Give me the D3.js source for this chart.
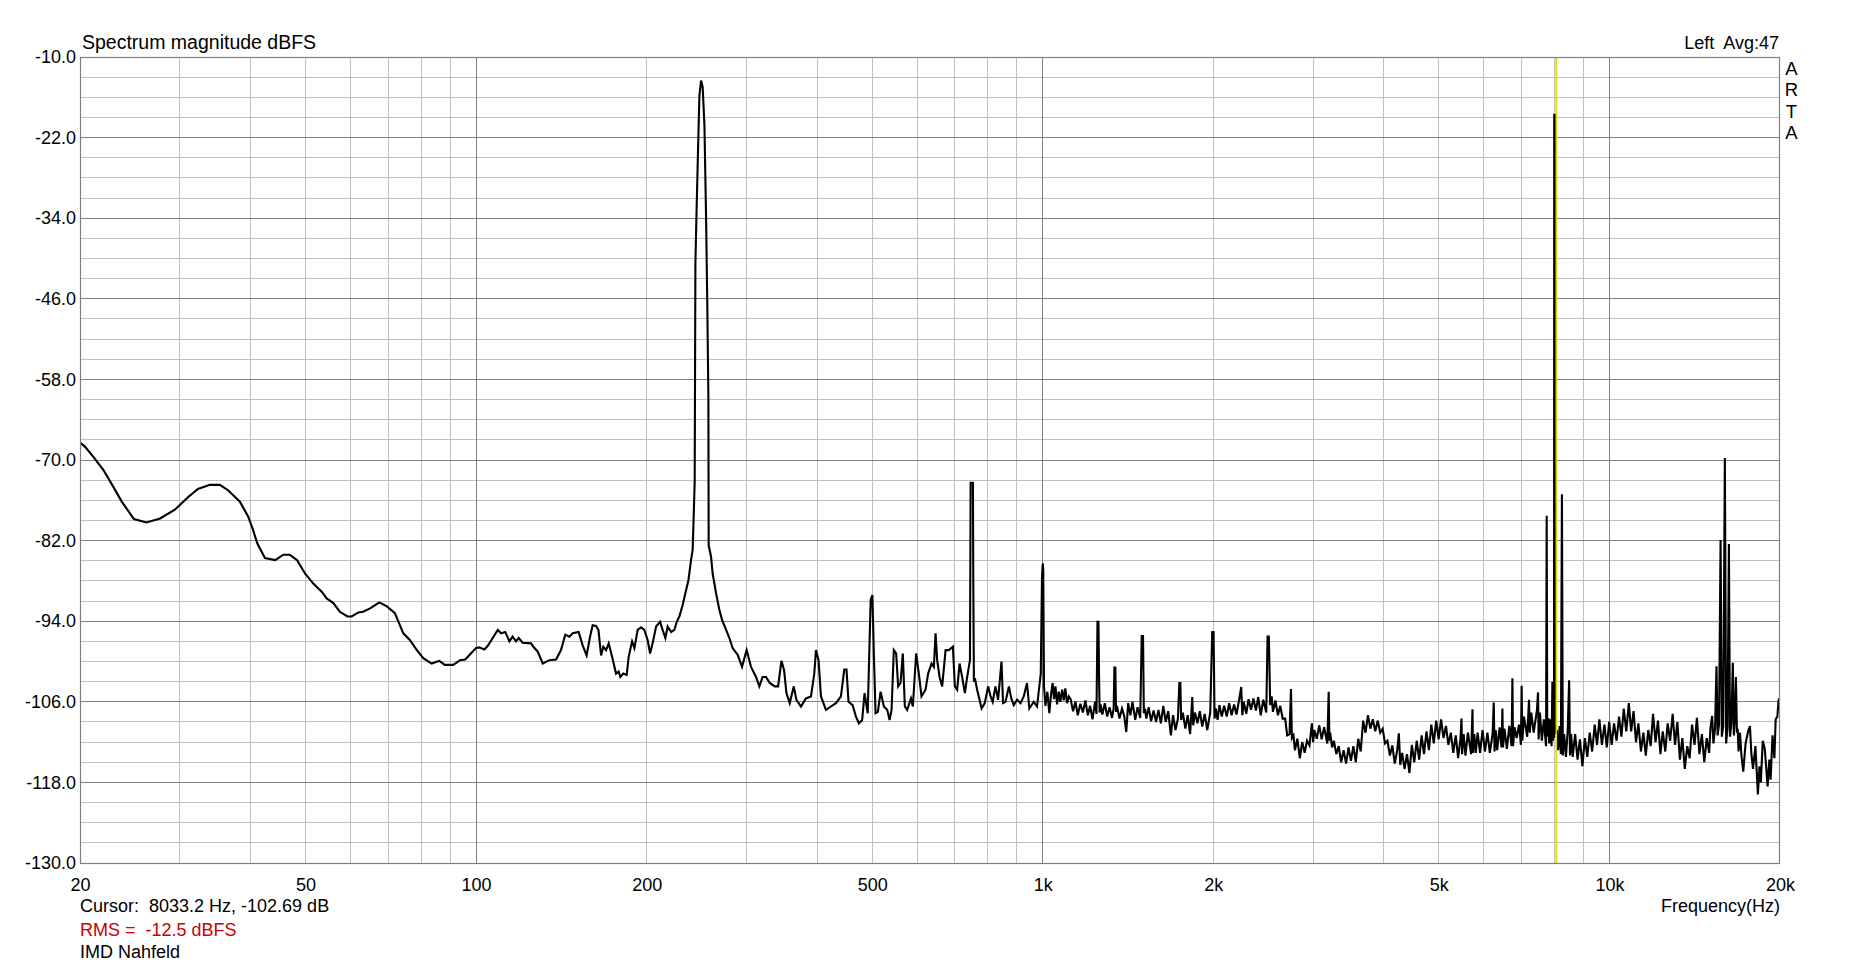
<!DOCTYPE html>
<html><head><meta charset="utf-8">
<script src="https://cdn.jsdelivr.net/npm/d3@7"></script>
<style>
html,body{margin:0;padding:0;background:#fff;}
svg{display:block;}
text{font-family:"Liberation Sans",Arial,Helvetica,sans-serif;fill:#000;white-space:pre;}
</style></head><body>
<svg id="chart" width="1860" height="967"></svg>
<script>
// ---------- DATA (frequency Hz, magnitude dBFS) ----------
const lowBand = [[20,-67.4],[20.4,-68.0],[21.1,-69.5],[22.0,-71.5],[22.9,-74.0],[23.7,-76.2],[24.9,-78.8],[26.2,-79.3],[27.7,-78.7],[29.4,-77.4],[31.05,-75.5],[32.3,-74.3],[33.9,-73.7],[35.3,-73.7],[36.5,-74.5],[38.3,-76.2],[39.6,-78.4],[40.4,-80.4],[41.1,-82.4],[42.4,-84.6],[44.2,-84.9],[45.7,-84.1],[46.9,-84.1],[48.3,-84.9],[49.9,-86.9],[51.6,-88.4],[53.4,-89.6],[54.5,-90.6],[56.0,-91.3],[57.5,-92.6],[59.3,-93.3],[60.3,-93.3],[62.0,-92.7],[63.2,-92.6],[65.0,-92.1],[67.5,-91.2],[69.6,-91.8],[71.9,-92.8],[74.4,-95.8],[76.4,-96.8],[78.6,-98.3],[80.7,-99.5],[83.5,-100.3],[86.1,-99.9],[88.1,-100.5],[91.1,-100.5],[93.7,-99.8],[95.7,-99.7],[100,-98.0],[101.3,-97.9],[103.4,-98.2],[104.8,-97.7],[107.0,-96.5],[109.2,-95.3],[110.7,-95.8],[112.6,-95.6],[114.5,-97.0],[116.0,-96.3],[117.6,-97.0],[118.9,-96.5],[120.8,-97.2],[125.0,-97.3],[126.2,-97.8],[128.4,-98.5],[131.1,-100.3],[134.7,-99.8],[138.4,-99.7],[141.2,-98.3],[143.7,-96.0],[146.1,-96.3],[148.1,-95.8],[151.7,-95.6],[154.2,-97.6],[156.7,-99.1],[158.9,-96.3],[160.6,-94.6],[162.8,-94.7],[164.4,-95.3],[166.2,-99.1],[167.7,-97.8],[169.6,-98.3],[171.4,-97.3],[173.8,-99.3],[176.6,-101.8],[178.5,-101.5],[179.7,-102.3],[181.9,-101.8],[184.4,-102.0],[185.9,-99.3],[188.5,-97.0],[190.3,-98.0],[192.8,-95.3],[195.5,-94.9],[198.1,-95.3],[200.8,-96.8],[202.8,-98.8],[204.9,-97.3],[207.8,-94.8],[211.2,-94.1],[213.4,-95.3],[215.8,-96.5],[217.8,-94.8],[220.9,-95.6],[223.8,-95.3],[226.0,-94.1],[228.4,-93.3],[231.5,-91.6],[234.7,-89.4]];

const fundamentalBand = [[237.0,-87.9],[239.5,-84.9],[241.1,-83.4],[242.1,-78.4],[243.1,-73.2],[243.8,-40.7],[245.1,-32.0],[246.5,-23.4],[247.8,-15.7],[249.5,-13.5],[251.1,-14.5],[252.9,-20.1],[254.6,-33.8],[255.9,-47.2],[257.0,-60.6],[257.3,-82.7],[259.8,-84.4],[261.5,-86.9],[265.1,-89.8],[268.7,-92.3],[271.7,-93.8],[276.2,-95.3],[279.9,-96.5],[283.6,-98.0],[289.5,-99.0],[294.7,-100.8]];

const midBand = [[300.2,-98.3],[305.6,-100.8],[311.9,-102.3],[316.1,-103.7],[320.4,-102.3],[324.9,-102.3],[329.8,-103.2],[336.6,-103.7],[341.2,-103.7],[345.8,-99.9],[349.6,-101.3],[352.9,-104.7],[357.7,-106.2],[363.6,-103.7],[367.5,-105.7],[374.4,-106.7],[382.0,-105.5],[389.9,-105.2],[395.2,-101.8],[397.9,-98.3],[402.1,-99.8],[406.1,-105.2],[414.4,-107.2],[422.9,-106.7],[431.6,-106.2],[440.4,-105.2],[446.4,-101.2],[450.5,-101.2],[454.2,-106.0],[461.8,-106.5],[468.1,-108.2],[473.7,-109.2],[480.1,-108.7],[484.8,-104.7],[491.0,-107.7],[497.0,-90.8],[500.5,-90.1],[503.4,-98.8],[506.9,-107.7],[511.7,-107.5],[517.4,-104.5],[524.4,-106.7],[531.5,-107.2],[536.7,-108.7],[541.0,-107.2],[546.0,-98.3],[551.2,-98.8],[555.7,-103.7],[561.1,-103.2],[566.3,-98.8],[571.0,-106.7],[576.4,-107.2],[585.4,-105.5],[589.9,-106.7],[597.8,-98.8],[604.4,-101.8],[611.0,-105.2],[621.1,-104.2],[627.7,-101.8],[636.5,-100.3],[642.5,-100.8],[646.9,-95.8],[651.1,-99.8],[657.6,-102.3],[664.5,-103.7],[673.8,-98.3],[682.8,-98.3],[694.1,-97.8],[699.7,-103.7],[706.3,-104.2],[713.2,-100.3],[720.7,-102.3],[728.8,-104.7],[735.6,-102.3],[744.0,-99.8],[746.0,-73.4],[753.0,-73.4],[754.0,-87.4],[756.0,-103.0],[759,-102.5],[766,-104.2],[780,-107.0],[790,-106.2],[801,-103.7],[809,-105.2],[816,-106.0],[825,-103.7],[834,-105.7],[845.7,-100.0],[851,-106.2],[859.6,-106.0],[871.5,-103.7],[880,-105.5],[889,-106.5],[901,-105.7],[913.7,-106.2],[925.7,-105.2],[938,-103.2],[947,-107.0],[964,-106.0],[977,-106.7],[992,-101.8],[997,-87.4],[1000,-85.4],[1002,-86.4],[1005,-103.7],[1011,-106.6],[1019,-104.5],[1027,-107.7],[1034,-105.0],[1041,-103.2],[1047,-105.6],[1053,-103.7],[1060,-106.4],[1067,-104.5],[1074,-106.0],[1082,-104.2],[1089,-105.8],[1096,-104.0],[1104,-106.2],[1112,-105.2]];

const highBand = [[1120,-105.6],[1131,-107.4],[1142,-106.0],[1153,-108.0],[1165,-106.3],[1177,-107.6],[1189,-105.8],[1201,-108.0],[1212,-106.6],[1224,-108.6],[1237,-106.0],[1244,-107.8],[1249,-94.1],[1254,-94.1],[1257,-102.2],[1260,-107.6],[1265,-106.4],[1274,-107.9],[1287,-106.2],[1299,-108.2],[1312,-106.8],[1325,-108.4],[1334,-107.0],[1338,-100.9],[1343,-100.9],[1347,-107.5],[1352,-106.6],[1366,-108.5],[1380,-107.0],[1393,-108.2],[1404,-110.5],[1415,-106.2],[1428,-108.0],[1440,-106.0],[1456,-108.7],[1470,-106.8],[1486,-108.4],[1495,-96.2],[1503,-96.2],[1508,-107.7],[1515,-107.0],[1523,-108.5],[1538,-106.8],[1553,-108.9],[1569,-107.3],[1585,-109.0],[1600,-107.2],[1616,-109.2],[1632,-106.6],[1648,-109.0],[1665,-107.4],[1683,-111.0],[1698,-108.0],[1715,-110.2],[1732,-108.5],[1742,-103.2],[1749,-103.2],[1755,-108.7],[1767,-107.6],[1785,-110.0],[1802,-108.0],[1820,-110.8],[1836,-105.3],[1843,-109.5],[1856,-107.6],[1875,-109.2],[1893,-107.4],[1912,-109.7],[1931,-107.8],[1951,-110.2],[1975,-107.6],[1991,-95.6],[2002,-95.6],[2010,-108.5],[2020,-107.0],[2035,-108.7],[2050,-106.5],[2070,-108.2],[2090,-106.6],[2112,-108.2],[2133,-106.2],[2154,-108.0],[2176,-106.4],[2197,-107.9],[2220,-105.8],[2240,-103.8],[2250,-108.0],[2263,-106.0],[2286,-107.8],[2308,-105.6],[2331,-107.2],[2354,-105.5],[2378,-107.3],[2400,-105.3],[2425,-108.0],[2450,-105.7],[2480,-107.6],[2493,-96.3],[2506,-96.3],[2520,-106.5],[2535,-105.2],[2548,-107.5],[2574,-105.8],[2600,-108.0],[2625,-106.6],[2651,-108.5],[2678,-108.5],[2700,-111.0],[2726,-110.8],[2742,-104.1],[2752,-111.4],[2770,-111.0],[2786,-113.2],[2814,-111.5],[2842,-114.4],[2870,-112.0],[2898,-113.6],[2927,-111.8],[2956,-112.5],[2985,-109.2],[3000,-112.0],[3015,-110.2],[3045,-111.5],[3076,-109.5],[3106,-111.6],[3137,-109.8],[3178,-112.2],[3196,-104.5],[3205,-111.8],[3215,-110.6],[3240,-112.8],[3264,-111.8],[3296,-113.8],[3329,-112.6],[3362,-115.0],[3396,-113.2],[3430,-115.2],[3464,-112.8],[3498,-114.8],[3533,-112.6],[3568,-115.0],[3604,-111.5],[3640,-113.4],[3676,-108.8],[3712,-110.6],[3749,-108.0],[3786,-110.0],[3824,-108.6],[3862,-110.4],[3901,-108.8],[3940,-110.6],[3979,-110.0],[4018,-112.2],[4058,-111.8],[4098,-114.0],[4139,-112.5],[4180,-115.2],[4222,-113.2],[4250,-110.7],[4275,-115.4],[4307,-113.6],[4350,-116.0],[4393,-113.8],[4437,-116.6],[4481,-112.4],[4525,-115.0],[4570,-111.8],[4616,-114.6],[4662,-111.0],[4708,-113.8],[4755,-110.4],[4802,-113.2],[4850,-109.4],[4898,-112.2],[4947,-108.8],[4996,-111.6],[5046,-108.6],[5096,-111.4],[5147,-109.6],[5198,-112.4],[5250,-110.6],[5302,-113.6],[5355,-111.0],[5408,-114.4],[5460,-111.5],[5482,-108.5],[5495,-113.8],[5530,-110.8],[5571,-114.0],[5627,-110.6],[5700,-113.8],[5733,-107.1],[5745,-113.6],[5775,-110.8],[5810,-113.6],[5854,-110.6],[5912,-113.6],[5971,-110.2],[6031,-113.4],[6091,-110.6],[6151,-113.6],[6220,-110.8],[6250,-106.1],[6270,-113.4],[6300,-110.2],[6337,-113.2],[6400,-109.8],[6450,-112.8],[6474,-107.0],[6490,-112.8],[6528,-110.0],[6593,-113.0],[6658,-109.6],[6720,-112.6],[6742,-102.5],[6760,-112.6],[6800,-109.8],[6859,-111.4],[6927,-109.4],[6980,-112.4],[7000,-103.6],[7020,-111.8],[7066,-108.2],[7160,-111.2],[7213,-105.7],[7235,-110.6],[7280,-107.6],[7351,-110.6],[7450,-107.2],[7482,-104.6],[7500,-111.6],[7540,-107.6],[7600,-111.8],[7660,-108.6],[7730,-112.6],[7750,-78.3],[7768,-111.2],[7801,-108.4],[7830,-112.2],[7870,-108.6],[7905,-112.6],[7932,-103.0],[7950,-111.8],[7965,-108.0],[7985,-111.4],[7992,-18.6],[8012,-18.6],[8018,-110.6],[8080,-110.4],[8120,-113.2],[8170,-109.6],[8210,-113.8],[8245,-75.1],[8275,-114.0],[8320,-110.8],[8380,-114.2],[8440,-110.4],[8490,-102.8],[8520,-114.0],[8560,-110.8],[8613,-114.2],[8700,-110.8],[8786,-114.6],[8870,-111.6],[8961,-115.6],[9050,-111.4],[9140,-114.2],[9230,-110.6],[9323,-113.4],[9420,-109.4],[9510,-112.4],[9600,-108.6],[9700,-112.4],[9800,-109.4],[9894,-112.8],[9990,-109.0],[10092,-112.4],[10190,-109.2],[10294,-111.8],[10400,-108.2],[10500,-111.2],[10600,-107.0],[10710,-110.4],[10820,-106.2],[10924,-110.4],[11030,-107.4],[11142,-112.0],[11250,-109.2],[11365,-113.4],[11480,-110.6],[11592,-114.0],[11710,-110.2],[11824,-112.6],[11940,-107.8],[12061,-112.0],[12180,-108.8],[12302,-113.8],[12420,-110.4],[12548,-113.4],[12670,-109.2],[12799,-111.8],[12930,-107.8],[13055,-112.4],[13180,-109.0],[13316,-114.6],[13450,-111.4],[13583,-116.0],[13720,-112.6],[13854,-114.4],[13990,-109.4],[14132,-112.4],[14270,-108.4],[14414,-113.8],[14560,-110.8],[14702,-115.0],[14850,-111.4],[14996,-113.6],[15080,-109.8],[15180,-108.1],[15260,-112.2],[15360,-110.0],[15450,-100.7],[15520,-111.0],[15610,-109.4],[15710,-81.9],[15790,-111.2],[15880,-109.6],[15985,-69.7],[16070,-112.2],[16160,-109.8],[16250,-82.5],[16320,-111.2],[16410,-109.4],[16510,-100.2],[16580,-111.0],[16640,-108.8],[16720,-102.3],[16790,-110.6],[16840,-110.0],[16900,-113.4],[17000,-110.6],[17100,-114.0],[17226,-116.4],[17390,-112.2],[17571,-110.4],[17700,-109.6],[17800,-113.6],[17922,-116.0],[18100,-112.6],[18281,-119.8],[18400,-115.6],[18500,-118.0],[18646,-111.8],[18800,-113.0],[19019,-118.6],[19150,-114.6],[19250,-117.6],[19400,-111.0],[19550,-114.4],[19650,-108.6],[19788,-108.2],[19880,-105.8],[20000,-105.4]];

const yTicks = [-10,-22,-34,-46,-58,-70,-82,-94,-106,-118,-130];
const xTickValues = [20,50,100,200,500,1000,2000,5000,10000,20000];
const xTickLabels = ["20","50","100","200","500","1k","2k","5k","10k","20k"];
const xMinorGrid = [30,40,50,60,70,80,90,200,300,400,500,600,700,800,900,2000,3000,4000,5000,6000,7000,8000,9000];
const xMajorGrid = [100,1000,10000];
const cursorHz = 8033.2, cursorDb = -102.69, rmsDbfs = -12.5, averages = 47;

// ---------- CHART ----------
const W = 1860, H = 967;
const P = {left:80, top:57, right:1780, bottom:863};
const svg = d3.select("#chart");
svg.append("rect").attr("width",W).attr("height",H).attr("fill","#fff");

const x = d3.scaleLog().domain([20,20000]).range([P.left,P.right]);
const y = d3.scaleLinear().domain([-130,-10]).range([P.bottom,P.top]);

const grid = svg.append("g").attr("shape-rendering","crispEdges");
const minorY = d3.range(-127,-10,3).filter(v => !yTicks.includes(v));
grid.selectAll(".hmin").data(minorY).join("line")
  .attr("x1",P.left).attr("x2",P.right).attr("y1",d=>y(d)).attr("y2",d=>y(d))
  .attr("stroke","#c0c0c0").attr("stroke-width",1);
grid.selectAll(".vmin").data(xMinorGrid).join("line")
  .attr("x1",d=>x(d)).attr("x2",d=>x(d)).attr("y1",P.top).attr("y2",P.bottom)
  .attr("stroke","#c0c0c0").attr("stroke-width",1);
grid.selectAll(".hmaj").data(yTicks.slice(1,-1)).join("line")
  .attr("x1",P.left).attr("x2",P.right).attr("y1",d=>y(d)).attr("y2",d=>y(d))
  .attr("stroke","#808080").attr("stroke-width",1);
grid.selectAll(".vmaj").data(xMajorGrid).join("line")
  .attr("x1",d=>x(d)).attr("x2",d=>x(d)).attr("y1",P.top).attr("y2",P.bottom)
  .attr("stroke","#808080").attr("stroke-width",1);

svg.append("clipPath").attr("id","clip").append("rect")
  .attr("x",P.left).attr("y",P.top).attr("width",P.right-P.left).attr("height",P.bottom-P.top);

const spectrum = [...lowBand, ...fundamentalBand, ...midBand, ...highBand];
const line = d3.line().x(d=>x(d[0])).y(d=>y(d[1]));
svg.append("path").datum(spectrum).attr("d",line).attr("clip-path","url(#clip)")
  .attr("fill","none").attr("stroke","#000").attr("stroke-width",2.1).attr("stroke-linejoin","miter");

// cursor
svg.append("line").attr("x1",x(cursorHz)+0.8).attr("x2",x(cursorHz)+0.8).attr("y1",P.top).attr("y2",P.bottom)
  .attr("stroke","#d8d800").attr("stroke-width",1.6);

// border
svg.append("rect").attr("x",P.left+0.5).attr("y",P.top+0.5).attr("width",P.right-P.left-1).attr("height",P.bottom-P.top)
  .attr("fill","none").attr("stroke","#808080").attr("stroke-width",1.2);

// axes
const fontFam = '"Liberation Sans",Arial,Helvetica,sans-serif';
const xAxis = d3.axisBottom(x).tickValues(xTickValues).tickFormat((d,i)=>xTickLabels[i]).tickSize(0).tickPadding(15);
svg.append("g").attr("transform",`translate(0,${P.bottom})`).call(xAxis)
  .call(g=>g.select(".domain").remove())
  .call(g=>g.selectAll("text").attr("font-size",18).attr("font-family",fontFam).attr("fill","#000"));
const yAxis = d3.axisLeft(y).tickValues(yTicks).tickFormat(d=>d.toFixed(1)).tickSize(0).tickPadding(4);
svg.append("g").attr("transform",`translate(${P.left},0)`).call(yAxis)
  .call(g=>g.select(".domain").remove())
  .call(g=>g.selectAll("text").attr("font-size",18).attr("font-family",fontFam).attr("fill","#000"));

// texts
svg.append("text").attr("x",82).attr("y",49).attr("font-size",19.5).text("Spectrum magnitude dBFS");
svg.append("text").attr("x",1779).attr("y",49).attr("font-size",18).attr("text-anchor","end").text("Left  Avg:" + averages);
["A","R","T","A"].forEach((c,i)=>{
  svg.append("text").attr("x",1791.5).attr("y",75+i*21.3).attr("font-size",18.5).attr("text-anchor","middle").text(c);
});
svg.append("text").attr("x",80).attr("y",912).attr("font-size",18)
  .text(`Cursor:  ${cursorHz.toFixed(1)} Hz, ${cursorDb.toFixed(2)} dB`);
svg.append("text").attr("x",80).attr("y",936).attr("font-size",18).style("fill","#cc0000")
  .text(`RMS =  ${rmsDbfs.toFixed(1)} dBFS`);
svg.append("text").attr("x",80).attr("y",958).attr("font-size",18).text("IMD Nahfeld");
svg.append("text").attr("x",1780).attr("y",912).attr("font-size",18).attr("text-anchor","end").text("Frequency(Hz)");
</script>
</body></html>
